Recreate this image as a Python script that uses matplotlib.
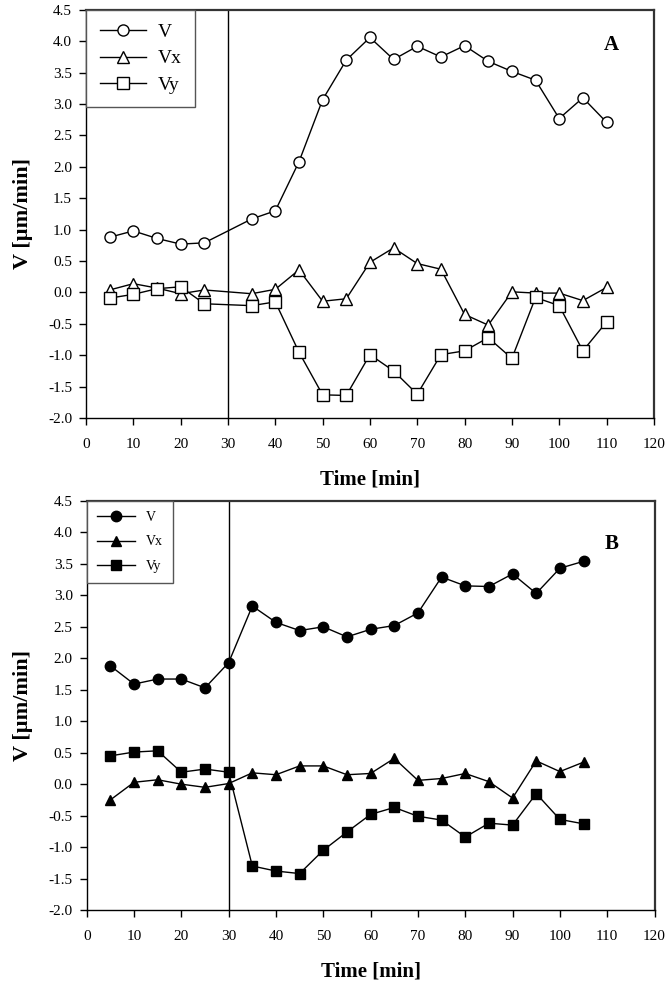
import matplotlib
matplotlib.use("Agg")
import matplotlib.pyplot as plt

plt.rcParams['font.family'] = ['Liberation Serif', 'DejaVu Serif']

# Panel A (open markers)
time_a = [5, 10, 15, 20, 25, 35, 40, 45, 50, 55, 60, 65, 70, 75, 80, 85, 90, 95, 100, 105, 110]
v_a = [0.88, 0.98, 0.86, 0.77, 0.79, 1.17, 1.30, 2.08, 3.07, 3.70, 4.06, 3.71, 3.92, 3.75,
       3.93, 3.68, 3.52, 3.38, 2.77, 3.10, 2.71]
vx_a = [0.04, 0.14, 0.07, -0.02, 0.04, -0.02, 0.05, 0.36, -0.14, -0.10, 0.48, 0.71, 0.46,
        0.37, -0.35, -0.52, 0.01, -0.01, -0.01, -0.13, 0.08]
vy_a = [-0.09, -0.03, 0.06, 0.09, -0.18, -0.21, -0.15, -0.95, -1.63, -1.64, -0.99, -1.25,
        -1.62, -0.99, -0.93, -0.72, -1.05, -0.08, -0.21, -0.93, -0.47]

# Panel B (filled markers)
time_b = [5, 10, 15, 20, 25, 30, 35, 40, 45, 50, 55, 60, 65, 70, 75, 80, 85, 90, 95, 100, 105]
v_b = [1.88, 1.59, 1.67, 1.67, 1.53, 1.93, 2.83, 2.57, 2.44, 2.50, 2.34, 2.46, 2.52, 2.72,
       3.29, 3.15, 3.14, 3.34, 3.03, 3.43, 3.54]
vx_b = [-0.25, 0.03, 0.07, 0.00, -0.05, 0.01, 0.18, 0.15, 0.29, 0.29, 0.15, 0.17, 0.41, 0.06,
        0.09, 0.17, 0.04, -0.22, 0.37, 0.20, 0.35]
vy_b = [0.45, 0.51, 0.53, 0.19, 0.24, 0.19, -1.30, -1.38, -1.42, -1.05, -0.76, -0.48, -0.37,
        -0.51, -0.57, -0.84, -0.62, -0.65, -0.15, -0.56, -0.63]

series_names = ['V', 'Vx', 'Vy']
markers = ['o', '^', 's']
x_ticks = list(range(0, 121, 10))
y_ticks = [-2.0, -1.5, -1.0, -0.5, 0.0, 0.5, 1.0, 1.5, 2.0, 2.5, 3.0, 3.5, 4.0, 4.5]

fig = plt.figure(figsize=(6.72, 9.86), dpi=100)
ax_a = fig.add_axes([0.128, 0.576, 0.845, 0.414])
ax_b = fig.add_axes([0.129, 0.077, 0.845, 0.415])


def draw_panel(ax, t, series, face, letter, letter_y, ms, leg_opts):
    for vals, name, mk in zip(series, series_names, markers):
        ax.plot(t, vals, color='black', lw=1.0, marker=mk, ms=ms,
                mfc=face, mec='black', mew=1.0, label=name)
    ax.axvline(30, color='black', lw=1.0)
    ax.set_xlim(0, 120)
    ax.set_ylim(-2.0, 4.5)
    ax.set_xticks(x_ticks)
    ax.set_yticks(y_ticks)
    ax.set_yticklabels([f'{v:.1f}' for v in y_ticks])
    ax.tick_params(direction='out', length=5, width=1.0, labelsize=11)
    ax.tick_params(axis='x', pad=9)
    ax.tick_params(axis='y', pad=5)
    for side in ['top', 'right']:
        ax.spines[side].set_linewidth(1.6)
        ax.spines[side].set_color('#333333')
    for side in ['left', 'bottom']:
        ax.spines[side].set_linewidth(1.0)
    ax.set_xlabel('Time [min]', fontsize=15, fontweight='bold', labelpad=14)
    ax.set_ylabel('V [µm/min]', fontsize=16, fontweight='bold', labelpad=11)
    ax.text(111, letter_y, letter, fontsize=15, fontweight='bold', ha='center', va='center')
    leg = ax.legend(loc='upper left', borderaxespad=0, fancybox=False, framealpha=1,
                    **leg_opts)
    leg.get_frame().set_edgecolor('#555555')
    leg.get_frame().set_linewidth(1.0)


draw_panel(ax_a, time_a, [v_a, vx_a, vy_a], 'white', 'A', 3.94, 8,
           dict(fontsize=14, handlelength=2.4, handletextpad=0.6,
                borderpad=0.7, labelspacing=0.45))
draw_panel(ax_b, time_b, [v_b, vx_b, vy_b], 'black', 'B', 3.82, 7.5,
           dict(fontsize=10, handlelength=2.7, handletextpad=0.8,
                borderpad=0.75, labelspacing=0.8))

fig.savefig('out.png', dpi=100)
